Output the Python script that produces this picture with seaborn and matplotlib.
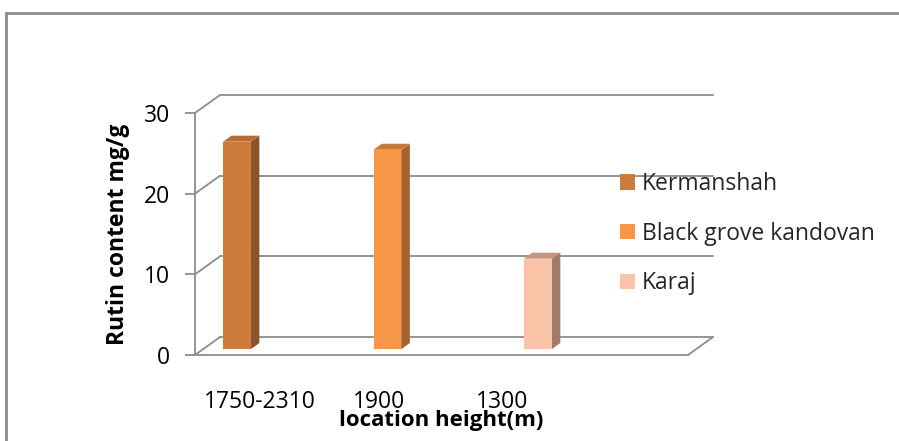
import numpy as np
import pandas as pd
import matplotlib
matplotlib.use("Agg")
import matplotlib.pyplot as plt
import matplotlib.transforms as mtransforms
from matplotlib.patches import Polygon, Rectangle
from matplotlib.lines import Line2D
import seaborn as sns

# ---- data ----
locations = ["Kermanshah", "Black grove kandovan", "Karaj"]
heights = ["1750-2310", "1900", "1300"]
rutin = [25.7, 24.7, 11.2]

front_colors = ["#CD7C3B", "#F79646", "#F9C4A8"]
top_colors = ["#B86C31", "#C9773A", "#C4957F"]
side_colors = ["#8A532A", "#A5622D", "#A07B6A"]
grid_color = "#8C8C8C"

y_ticks = [0, 10, 20, 30]

sns.set_theme(style="white")
plt.rcParams["font.family"] = ["Open Sans", "DejaVu Sans"]

FS = 16.5
DPI = 100
fig = plt.figure(figsize=(8.99, 4.41), dpi=DPI)
fig.patch.set_facecolor("white")

# outer chart frame (runs off the right and bottom edges)
fig.add_artist(Rectangle((6 / 899, -0.05), 1.2, (441 - 13) / 441 + 0.05,
                         transform=fig.transFigure, fill=False,
                         edgecolor="#8C8C8C", linewidth=2.0, zorder=0))

# front plane of the plot box
ax = fig.add_axes([195 / 899, 86 / 441, 493 / 899, 242 / 441])
ax.set_facecolor("none")

df = pd.DataFrame({"height": heights, "location": locations, "rutin": rutin})
sns.barplot(data=df, x="height", y="rutin", hue="location",
            order=heights, hue_order=locations, palette=front_colors,
            width=0.186, saturation=1, dodge=False, ax=ax, zorder=3)

xl, xr = -0.224, 3.052
ax.set_xlim(xl, xr)
ax.set_ylim(0, 30)

# depth of the box, in pixels (front -> back)
DX, DY = 25.0, 18.0


def shifted(f):
    return mtransforms.offset_copy(ax.transData, fig=fig, x=DX * f, y=DY * f,
                                   units="dots")


def pt(x, y, f):
    X, Y = ax.transData.transform((x, y))
    return (X + DX * f, Y + DY * f)


back = shifted(1.0)
# back wall gridlines and side wall diagonals
for v in y_ticks:
    ax.add_line(Line2D([xl, xr], [v, v], transform=back, color=grid_color,
                       linewidth=1.3, zorder=1, clip_on=False))
    p0, p1 = pt(xl, v, 0), pt(xl, v, 1)
    fig.add_artist(Line2D([p0[0], p1[0]], [p0[1], p1[1]], transform=None,
                          color=grid_color, linewidth=1.3, zorder=1))
# floor right edge
p0, p1 = pt(xr, 0, 0), pt(xr, 0, 1)
fig.add_artist(Line2D([p0[0], p1[0]], [p0[1], p1[1]], transform=None,
                      color=grid_color, linewidth=1.3, zorder=1))

# bars sit in the middle third of the depth
f0, f1 = 1 / 3, 2 / 3
mid = shifted(f0)
for i, patch in enumerate(ax.patches[:len(rutin)]):
    patch.set_transform(mid)
    patch.set_edgecolor("none")
    x0 = patch.get_x()
    x1 = x0 + patch.get_width()
    h = patch.get_height()
    a, b = pt(x1, 0, f0), pt(x1, h, f0)
    c, d = pt(x1, h, f1), pt(x1, 0, f1)
    fig.add_artist(Polygon([a, b, c, d], closed=True, transform=None,
                           facecolor=side_colors[i], edgecolor="none", zorder=2))
    a, b = pt(x0, h, f0), pt(x1, h, f0)
    c, d = pt(x1, h, f1), pt(x0, h, f1)
    fig.add_artist(Polygon([a, b, c, d], closed=True, transform=None,
                           facecolor=top_colors[i], edgecolor="none", zorder=2))

# spines: front left axis and floor front edge
for s in ["top", "right"]:
    ax.spines[s].set_visible(False)
for s in ["left", "bottom"]:
    ax.spines[s].set_color(grid_color)
    ax.spines[s].set_linewidth(1.3)
ax.spines["bottom"].set_zorder(1)

ax.set_yticks(y_ticks)
ax.set_yticklabels([str(v) for v in y_ticks])
ax.tick_params(axis="y", left=True, length=7, width=1.3, color=grid_color,
               labelsize=FS, pad=11, labelcolor="black")

label_shift = [0.21, 0.0, -0.18]
ax.set_xticks([i + s for i, s in enumerate(label_shift)])
ax.set_xticklabels(heights)
ax.tick_params(axis="x", bottom=False, length=0, labelsize=FS, pad=25.5,
               labelcolor="black")

ax.set_xlabel("location height(m)", fontsize=16, fontweight="bold",
              color="black")
ax.xaxis.label.set_va("baseline")
ax.xaxis.set_label_coords(0.5, (441 - 426 - 86) / 242)
ax.set_ylabel("Rutin content mg/g", fontsize=FS, fontweight="bold",
              labelpad=10, color="black")
ax.grid(False)

handles = [Rectangle((0, 0), 1, 1, facecolor=c, edgecolor="none")
           for c in front_colors]
ax.legend(handles, locations, loc="upper left",
          bbox_to_anchor=(620 / 899, 1 - 172 / 441), bbox_transform=fig.transFigure,
          frameon=False, fontsize=FS, handlelength=0.66, handleheight=0.66,
          handletextpad=0.3, labelspacing=1.12, borderpad=0, borderaxespad=0)

fig.savefig("out.png", dpi=DPI)
